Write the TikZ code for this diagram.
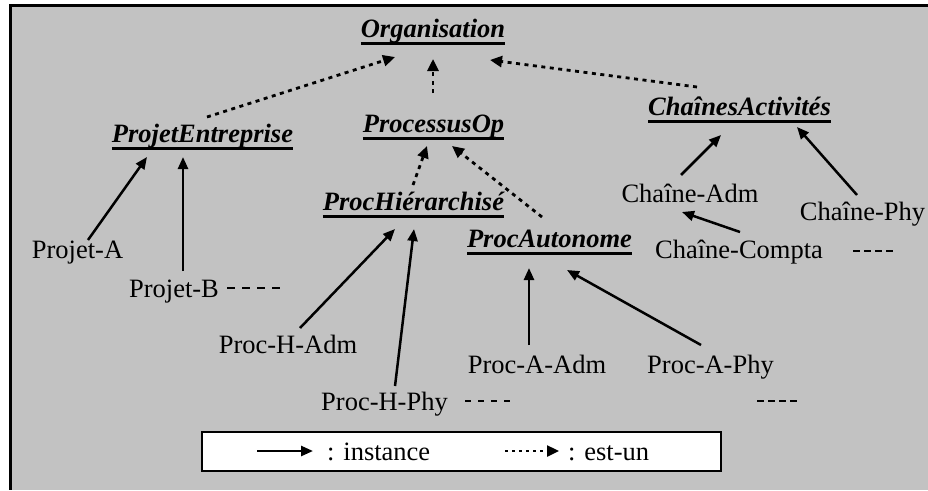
\documentclass[tikz,border=0pt]{standalone}
\usepackage{fontspec}
\setmainfont{Liberation Serif}
\usetikzlibrary{arrows.meta}
\newcommand\ulcls[1]{\setbox0=\hbox{#1}\hbox{\rlap{\vrule height -4.5pt depth 7.5pt width \wd0}\box0}}
\definecolor{bggray}{gray}{0.76}
\begin{document}
\begin{tikzpicture}[x=1pt,y=-1pt,
  every node/.style={inner sep=0pt, anchor=base, font=\fontsize{26.5}{30}\selectfont},
  cls/.style={font=\fontsize{26.5}{30}\selectfont\bfseries\itshape},
  inst/.style={line width=2.5pt, -{Triangle[length=12pt,width=10pt]}},
  isa/.style={line width=2.8pt, dash pattern=on 4pt off 4.5pt, -{Triangle[length=12pt,width=11pt]}},
  etc/.style={line width=2pt}]
\useasboundingbox (0,0) rectangle (928,490);
\fill[white] (0,0) rectangle (928,490);
\fill[bggray] (10,5) rectangle (928,490);
\draw[line width=3pt] (928,5) -- (10,5) -- (10,490);

% classes
\node[cls] (org) at (433,37) {\ulcls{Organisation}};
\node[cls] (proc) at (433.5,132) {\ulcls{ProcessusOp}};
\node[cls] (proj) at (202.5,142) {\ulcls{ProjetEntreprise}};
\node[cls] (chains) at (739.5,115) {\ulcls{ChaînesActivités}};
\node[cls] (hier) at (413.5,210) {\ulcls{ProcHiérarchisé}};
\node[cls] (auto) at (549.5,247) {\ulcls{ProcAutonome}};

% instances
\node (ca) at (690,202) {Chaîne-Adm};
\node (cp) at (862.5,220) {Chaîne-Phy};
\node (cc) at (739,258) {Chaîne-Compta};
\node (pa) at (77.5,258) {Projet-A};
\node (pb) at (174,297) {Projet-B};
\node (pha) at (288,353) {Proc-H-Adm};
\node (php) at (384.5,410) {Proc-H-Phy};
\node (paa) at (537,373) {Proc-A-Adm};
\node (pap) at (710.5,373) {Proc-A-Phy};

% est-un
\draw[isa] ([shift={(4.5,-25)}]proj.base) -- ([shift={(-38,20)}]org.base);
\draw[isa] ([shift={(-0.5,-39)}]proc.base) -- ([shift={(0,22)}]org.base);
\draw[isa] ([shift={(-42.5,-28)}]chains.base) -- ([shift={(57,23)}]org.base);
\draw[isa] ([shift={(-0.5,-25)}]hier.base) -- ([shift={(-6.5,14)}]proc.base);
\draw[isa] ([shift={(-7.5,-30)}]auto.base) -- ([shift={(18.5,14)}]proc.base);

% instance
\draw[inst] ([shift={(10.5,-18)}]pa.base) -- ([shift={(-55.5,15)}]proj.base);
\draw[inst] ([shift={(9,-26)}]pb.base) -- ([shift={(-19.5,15)}]proj.base);
\draw[inst] ([shift={(12,-25)}]pha.base) -- ([shift={(-18.5,19)}]hier.base);
\draw[inst] ([shift={(10.5,-24)}]php.base) -- ([shift={(0.5,19)}]hier.base);
\draw[inst] ([shift={(-8,-28)}]paa.base) -- ([shift={(-20.5,21)}]auto.base);
\draw[inst] ([shift={(-9.5,-28)}]pap.base) -- ([shift={(17.5,23)}]auto.base);
\draw[inst] ([shift={(-9,-27)}]ca.base) -- ([shift={(-18.5,20)}]chains.base);
\draw[inst] ([shift={(-5.5,-25)}]cp.base) -- ([shift={(57.5,12)}]chains.base);
\draw[inst] ([shift={(1,-26)}]cc.base) -- ([shift={(-8,10)}]ca.base);

% continuation dashes
\draw[etc, dash pattern=on 8pt off 7pt] (227,288) -- (280,288);
\draw[etc, dash pattern=on 6pt off 7pt] (465,401) -- (510,401);
\draw[etc, dash pattern=on 7pt off 4pt] (757,401) -- (797,401);
\draw[etc, dash pattern=on 7pt off 4pt] (853,251) -- (893,251);

% legend
\draw[line width=2.5pt, fill=white] (202,432) rectangle (721,471);
\coordinate (l1a) at (257,451);
\coordinate (l1b) at (313,451);
\coordinate (l2a) at (505,451);
\coordinate (l2b) at (559,451);
\draw[inst] (l1a) -- (l1b);
\draw[isa, line width=2.4pt, dash pattern=on 3pt off 4pt] (l2a) -- (l2b);
\node[anchor=base west] (linst) at (327,460) {: instance};
\node[anchor=base west] (lisa) at (568,460) {: est-un};
\end{tikzpicture}
\end{document}
